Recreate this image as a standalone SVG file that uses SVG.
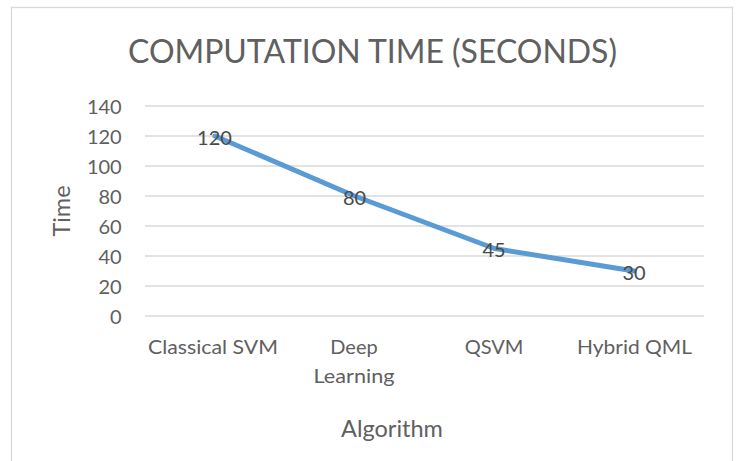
<svg xmlns="http://www.w3.org/2000/svg" width="738" height="461" viewBox="0 0 738 461">
<style>
text{font-family:Lato,"Open Sans","Liberation Sans",sans-serif;fill:#606060}
.tick{font-size:20px;text-anchor:end}
.cat{font-size:20px;text-anchor:middle}
.dl{font-size:20px;text-anchor:middle;fill:#4a4a4a}
.ax{font-size:23.5px;text-anchor:middle}
.grid line{stroke:#d9d9d9;stroke-width:1.3}
</style>
<rect x="0" y="0" width="738" height="461" fill="#ffffff"/>
<rect id="frame" x="11.5" y="7.5" width="721" height="470" fill="#ffffff" stroke="#d9d9d9" stroke-width="1.3"/>
<g id="title"><text x="128" y="63" font-size="33.5" textLength="489" lengthAdjust="spacingAndGlyphs">COMPUTATION TIME (SECONDS)</text></g>
<g id="gridlines" class="grid">
<line x1="145" y1="316" x2="704" y2="316"/>
<line x1="145" y1="286" x2="704" y2="286"/>
<line x1="145" y1="256" x2="704" y2="256"/>
<line x1="145" y1="226" x2="704" y2="226"/>
<line x1="145" y1="196" x2="704" y2="196"/>
<line x1="145" y1="166" x2="704" y2="166"/>
<line x1="145" y1="136" x2="704" y2="136"/>
<line x1="145" y1="106" x2="704" y2="106"/>
</g>
<g id="y-axis-labels">
<text class="tick" x="121.7" y="323.7">0</text>
<text class="tick" x="121.7" y="293.7">20</text>
<text class="tick" x="121.7" y="263.7">40</text>
<text class="tick" x="121.7" y="233.7">60</text>
<text class="tick" x="121.7" y="203.7">80</text>
<text class="tick" x="121.7" y="173.7">100</text>
<text class="tick" x="121.7" y="143.7">120</text>
<text class="tick" x="121.7" y="113.7">140</text>
</g>
<g id="x-axis-labels">
<text class="cat" x="213" y="354" textLength="130" lengthAdjust="spacingAndGlyphs">Classical SVM</text>
<text class="cat" x="354" y="354">Deep</text>
<text class="cat" x="354" y="383" textLength="81" lengthAdjust="spacingAndGlyphs">Learning</text>
<text class="cat" x="494" y="354">QSVM</text>
<text class="cat" x="634.5" y="354" textLength="115" lengthAdjust="spacingAndGlyphs">Hybrid QML</text>
</g>
<g id="axis-titles">
<text class="ax" x="392" y="437">Algorithm</text>
<text class="ax" transform="translate(70,211) rotate(-90)" x="0" y="0">Time</text>
</g>
<g id="connectors">
<polyline points="214.9,136 354.6,196 494.4,248.5 634.1,271" fill="none" stroke="#5b9bd5" stroke-width="5" stroke-linejoin="round" stroke-linecap="round"/>
</g>
<g id="data-labels">
<text class="dl" x="214.5" y="145">120</text>
<text class="dl" x="354.5" y="204.5">80</text>
<text class="dl" x="494" y="257">45</text>
<text class="dl" x="634" y="279.5">30</text>
</g>
</svg>
